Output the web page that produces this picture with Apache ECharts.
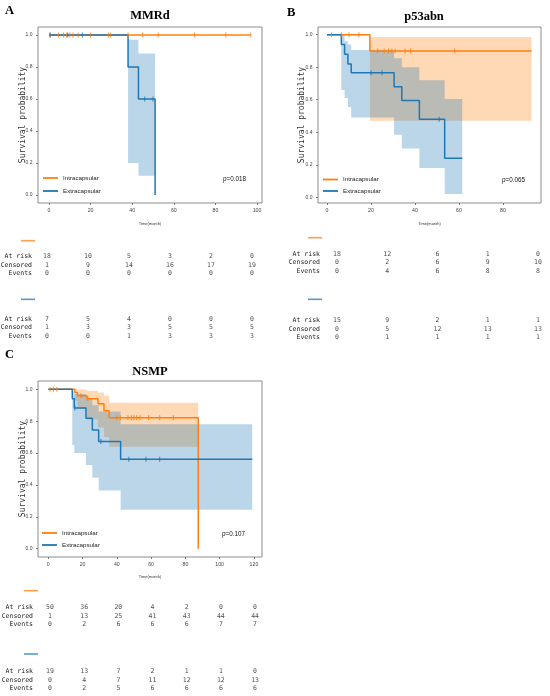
<!DOCTYPE html>
<html>
<head>
<meta charset="utf-8">
<script src="https://cdn.jsdelivr.net/npm/echarts@6/dist/echarts.min.js"></script>
<style>
  html, body { margin: 0; padding: 0; background: #fff; }
  #chart { width: 550px; height: 696px; }
</style>
</head>
<body>
<div id="chart"></div>
<script>
// ---- A: MMRd ----
var mmrdTicks = [0, 20, 40, 60, 80, 100];
var mmrdInTime = [0, 97];
var mmrdInSurv = [1, 1];
var mmrdInCens = [0.5, 4.5, 7, 8.5, 10, 11.5, 14, 20, 28.5, 29.5, 38, 45, 52.5, 70, 85, 97];
var mmrdExTime = [0, 38, 43, 51];
var mmrdExSurv = [1, 0.8, 0.6, 0];
var mmrdExLow = [1, 0.2, 0.12, 0.12];
var mmrdExUp = [1, 0.97, 0.885, 0.885];
var mmrdExCens = [0.5, 9, 16, 46, 50];
var mmrdInRisk = [18, 10, 5, 3, 2, 0];
var mmrdInCensored = [1, 9, 14, 16, 17, 19];
var mmrdInEvents = [0, 0, 0, 0, 0, 0];
var mmrdExRisk = [7, 5, 4, 0, 0, 0];
var mmrdExCensored = [1, 3, 3, 5, 5, 5];
var mmrdExEvents = [0, 0, 1, 3, 3, 3];

// ---- B: p53abn ----
var p53Ticks = [0, 20, 40, 60, 80];
var p53InTime = [0, 19.5, 93];
var p53InSurv = [1, 0.9, 0.9];
var p53InLow = [1, 0.47, 0.47];
var p53InUp = [1, 0.985, 0.985];
var p53InCens = [2, 6.5, 10, 14.5, 23, 26, 28, 29.5, 31, 35.5, 38, 58];
var p53ExTime = [0, 6.5, 8, 9.5, 11, 30.5, 34, 42, 53.5, 61.5];
var p53ExSurv = [1, 0.94, 0.88, 0.82, 0.765, 0.68, 0.595, 0.48, 0.24, 0.24];
var p53ExLow = [1, 0.66, 0.61, 0.555, 0.49, 0.385, 0.3, 0.18, 0.02, 0.02];
var p53ExUp = [1, 1, 0.96, 0.94, 0.905, 0.855, 0.8, 0.72, 0.605, 0.605];
var p53ExCens = [20, 25, 51];
var p53InRisk = [18, 12, 6, 1, 0];
var p53InCensored = [0, 2, 6, 9, 10];
var p53InEvents = [0, 4, 6, 8, 8];
var p53ExRisk = [15, 9, 2, 1, 1];
var p53ExCensored = [0, 5, 12, 13, 13];
var p53ExEvents = [0, 1, 1, 1, 1];

// ---- C: NSMP ----
var nsmpTicks = [0, 20, 40, 60, 80, 100, 120];
var nsmpInTime = [0, 15.5, 17, 22.5, 29, 32.5, 35.5, 87.5];
var nsmpInSurv = [1, 0.98, 0.96, 0.94, 0.91, 0.865, 0.822, 0];
var nsmpInLow = [1, 0.93, 0.88, 0.81, 0.76, 0.7, 0.64, 0.64];
var nsmpInUp = [1, 1, 0.998, 0.99, 0.98, 0.96, 0.916, 0.916];
var nsmpInCens = [1, 3, 5, 19, 23, 40, 42, 46.5, 48.5, 50, 51.5, 53.5, 58.5, 65, 73];
var nsmpExTime = [0, 14, 15.2, 22, 25.7, 29.4, 42.2, 119];
var nsmpExSurv = [1, 0.94, 0.883, 0.818, 0.745, 0.672, 0.561, 0.561];
var nsmpExLow = [1, 0.65, 0.6, 0.525, 0.445, 0.365, 0.245, 0.245];
var nsmpExUp = [1, 0.99, 0.97, 0.94, 0.9, 0.86, 0.78, 0.78];
var nsmpExCens = [15.5, 30.7, 47, 57, 65];
var nsmpInRisk = [50, 36, 20, 4, 2, 0, 0];
var nsmpInCensored = [1, 13, 25, 41, 43, 44, 44];
var nsmpInEvents = [0, 2, 6, 6, 6, 7, 7];
var nsmpExRisk = [19, 13, 7, 2, 1, 1, 0];
var nsmpExCensored = [0, 4, 7, 11, 12, 12, 13];
var nsmpExEvents = [0, 2, 5, 6, 6, 6, 6];

var rowNames = ['At risk', 'Censored', 'Events'];
var yTicks = [0, 0.2, 0.4, 0.6, 0.8, 1.0];

var ORANGE = '#ff7f0e', BLUE = '#1f77b4';
var ORANGE_BAND = 'rgba(255,127,14,0.3)', BLUE_BAND = 'rgba(31,119,180,0.3)';
var MONO = 'DejaVu Sans Mono';
var SANS = 'Liberation Sans';

var panels = [
  {
    title: 'MMRd', letter: 'A', p: '0.018', titleX: 150, titleY: 15.5, letterX: 5, letterY: 11,
    grid: { left: 38, top: 27, width: 224, height: 176 }, xr: [-5.3, 102.4], yr: [-0.05, 1.05],
    ticks: mmrdTicks, yNameGap: 11.5, xNameGap: 19, legend: { left: 43, top: 174, gap: 5 }, pPos: [223, 179],
    groups: [
      { name: 'Intracapsular', color: ORANGE, band: ORANGE_BAND, time: mmrdInTime, surv: mmrdInSurv, cens: mmrdInCens,
        risk: mmrdInRisk, censored: mmrdInCensored, events: mmrdInEvents },
      { name: 'Extracapsular', color: BLUE, band: BLUE_BAND, time: mmrdExTime, surv: mmrdExSurv, low: mmrdExLow, up: mmrdExUp, cens: mmrdExCens,
        risk: mmrdExRisk, censored: mmrdExCensored, events: mmrdExEvents }
    ],
    table: { left: 40, width: 215, xr: [-3.4, 101.5], tops: [252.5, 315.2], margin: 8, dashX: 21, dashY: [240.7, 299.3] }
  },
  {
    title: 'p53abn', letter: 'B', p: '0.065', titleX: 424, titleY: 16.5, letterX: 287, letterY: 13,
    grid: { left: 318, top: 27, width: 223, height: 176 }, xr: [-4.1, 97.3], yr: [-0.035, 1.047],
    ticks: p53Ticks, yNameGap: 12.5, xNameGap: 19, legend: { left: 323, top: 175.5, gap: 3.5 }, pPos: [502, 180],
    groups: [
      { name: 'Intracapsular', color: ORANGE, band: ORANGE_BAND, time: p53InTime, surv: p53InSurv, low: p53InLow, up: p53InUp, cens: p53InCens,
        risk: p53InRisk, censored: p53InCensored, events: p53InEvents },
      { name: 'Extracapsular', color: BLUE, band: BLUE_BAND, time: p53ExTime, surv: p53ExSurv, low: p53ExLow, up: p53ExUp, cens: p53ExCens,
        risk: p53ExRisk, censored: p53ExCensored, events: p53ExEvents }
    ],
    table: { left: 325, width: 220, xr: [-4.78, 82.78], tops: [250.2, 316.5], margin: 5, dashX: 308, dashY: [237.7, 299.3] }
  },
  {
    title: 'NSMP', letter: 'C', p: '0.107', titleX: 150, titleY: 371.5, letterX: 5, letterY: 355,
    grid: { left: 38, top: 381, width: 224, height: 176 }, xr: [-6.0, 124.7], yr: [-0.052, 1.052],
    ticks: nsmpTicks, yNameGap: 11.5, xNameGap: 18, legend: { left: 42, top: 529, gap: 4 }, pPos: [222, 534.3],
    groups: [
      { name: 'Intracapsular', color: ORANGE, band: ORANGE_BAND, time: nsmpInTime, surv: nsmpInSurv, low: nsmpInLow, up: nsmpInUp, cens: nsmpInCens,
        risk: nsmpInRisk, censored: nsmpInCensored, events: nsmpInEvents },
      { name: 'Extracapsular', color: BLUE, band: BLUE_BAND, time: nsmpExTime, surv: nsmpExSurv, low: nsmpExLow, up: nsmpExUp, cens: nsmpExCens,
        risk: nsmpExRisk, censored: nsmpExCensored, events: nsmpExEvents }
    ],
    table: { left: 40, width: 220, xr: [-5.85, 122.9], tops: [603.5, 667.5], margin: 7, dashX: 24, dashY: [590.7, 654] }
  }
];

// survival value of a step curve at time t
function survAt(time, surv, t) {
  var v = surv[0];
  for (var i = 0; i < time.length; i++) {
    if (time[i] <= t) v = surv[i];
  }
  return v;
}

// confidence band drawn as one stepped polygon
function bandRenderer(fill) {
  return function (params, api) {
    if (params.dataIndexInside !== 0) return null;
    var n = params.dataInsideLength;
    var top = [], bot = [];
    for (var i = 0; i < n - 1; i++) {
      var t0 = api.value(0, i), t1 = api.value(0, i + 1);
      top.push(api.coord([t0, api.value(2, i)]), api.coord([t1, api.value(2, i)]));
      bot.push(api.coord([t0, api.value(1, i)]), api.coord([t1, api.value(1, i)]));
    }
    return {
      type: 'polygon',
      shape: { points: top.concat(bot.reverse()) },
      style: { fill: fill },
      silent: true
    };
  };
}

var grids = [], xAxes = [], yAxes = [], series = [], legends = [], graphics = [];

panels.forEach(function (pn, pi) {
  grids[pi] = Object.assign({ show: true, borderColor: '#8c8c8c', borderWidth: 1, backgroundColor: '#fff',
    containLabel: false, outerBoundsMode: 'none' }, pn.grid);
  xAxes[pi] = {
    type: 'value', gridIndex: pi, min: pn.xr[0], max: pn.xr[1],
    name: 'Time(month)', nameLocation: 'middle', nameGap: pn.xNameGap, nameMoveOverlap: false,
    nameTextStyle: { fontFamily: SANS, fontSize: 4, color: '#333' },
    axisLine: { show: false, onZero: false },
    axisTick: { show: true, length: 2, lineStyle: { color: '#777' }, customValues: pn.ticks },
    axisLabel: { customValues: pn.ticks, margin: 5.5, fontFamily: SANS, fontSize: 5.2, color: '#444' },
    splitLine: { show: false }
  };
  yAxes[pi] = {
    type: 'value', gridIndex: pi, min: pn.yr[0], max: pn.yr[1],
    name: 'Survival probability', nameLocation: 'middle', nameGap: pn.yNameGap, nameRotate: 90, nameMoveOverlap: false,
    nameTextStyle: { fontFamily: MONO, fontSize: 8, color: '#333' },
    axisLine: { show: false, onZero: false },
    axisTick: { show: true, length: 2, lineStyle: { color: '#777' }, customValues: yTicks },
    axisLabel: { customValues: yTicks, margin: 5.5, fontFamily: SANS, fontSize: 5, color: '#444',
      formatter: function (v) { return v.toFixed(1); } },
    splitLine: { show: false }
  };

  pn.groups.forEach(function (g, gi) {
    if (g.low) {
      series.push({
        type: 'custom', name: g.name + ' CI', xAxisIndex: pi, yAxisIndex: pi, z: 1, silent: true,
        encode: { x: 0, y: [1, 2] },
        data: g.time.map(function (t, i) { return [t, g.low[i], g.up[i]]; }),
        renderItem: bandRenderer(g.band)
      });
    }
    series.push({
      type: 'line', name: g.name, xAxisIndex: pi, yAxisIndex: pi, z: 3, step: 'end',
      showSymbol: false, symbol: 'none',
      itemStyle: { color: g.color }, lineStyle: { color: g.color, width: 1.5 },
      data: g.time.map(function (t, i) { return [t, g.surv[i]]; })
    });
    series.push({
      type: 'scatter', name: g.name + ' censored', xAxisIndex: pi, yAxisIndex: pi, z: 4, silent: true,
      symbol: 'rect', symbolSize: [1.1, 5], itemStyle: { color: g.color },
      data: g.cens.map(function (t) { return [t, survAt(g.time, g.surv, t)]; })
    });

    // risk table for this group
    var ti = 3 + pi * 2 + gi;
    grids[ti] = { show: false, left: pn.table.left, top: pn.table.tops[gi], width: pn.table.width, height: 25,
      containLabel: false, outerBoundsMode: 'none' };
    xAxes[ti] = { type: 'value', gridIndex: ti, min: pn.table.xr[0], max: pn.table.xr[1], show: false };
    yAxes[ti] = {
      type: 'category', gridIndex: ti, data: rowNames, inverse: true,
      axisLine: { show: false }, axisTick: { show: false }, splitLine: { show: false },
      axisLabel: { interval: 0, hideOverlap: false, margin: pn.table.margin, fontFamily: MONO, fontSize: 6.5, color: '#222' }
    };
    var rows = [g.risk, g.censored, g.events];
    var cells = [];
    rows.forEach(function (vals, r) {
      vals.forEach(function (v, j) { cells.push([pn.ticks[j], r, v]); });
    });
    series.push({
      type: 'scatter', name: g.name + ' table', xAxisIndex: ti, yAxisIndex: ti, silent: true,
      symbolSize: 1, itemStyle: { color: 'rgba(0,0,0,0)' },
      label: { show: true, position: 'inside', fontFamily: MONO, fontSize: 6.5, color: '#222',
        formatter: function (p) { return String(p.value[2]); } },
      data: cells
    });
    graphics.push({
      type: 'rect', silent: true,
      shape: { x: pn.table.dashX, y: pn.table.dashY[gi] - 0.8, width: 14, height: 1.6 },
      style: { fill: g.color, opacity: 0.75 }
    });
  });

  legends.push({
    data: ['Intracapsular', 'Extracapsular'], orient: 'vertical', left: pn.legend.left, top: pn.legend.top,
    icon: 'rect', itemWidth: 15, itemHeight: 1.8, itemGap: pn.legend.gap, padding: 0, selectedMode: false,
    textStyle: { fontFamily: SANS, fontSize: 6.2, lineHeight: 8, color: '#222' }
  });

  graphics.push({
    type: 'text', silent: true, x: pn.titleX, y: pn.titleY,
    style: { text: pn.title, fontFamily: 'Liberation Serif', fontWeight: 'bold', fontSize: 12.5, fill: '#000',
      align: 'center', verticalAlign: 'middle' }
  });
  graphics.push({
    type: 'text', silent: true, x: pn.letterX, y: pn.letterY,
    style: { text: pn.letter, fontFamily: 'Liberation Serif', fontWeight: 'bold', fontSize: 12.5, fill: '#000',
      align: 'left', verticalAlign: 'middle' }
  });
  graphics.push({
    type: 'text', silent: true, x: pn.pPos[0], y: pn.pPos[1],
    style: { text: '{i|p}=' + pn.p, fontFamily: SANS, fontSize: 6.3, fill: '#111',
      align: 'left', verticalAlign: 'middle',
      rich: { i: { fontStyle: 'italic', fontFamily: SANS, fontSize: 6.3, fill: '#111' } } }
  });
});

var chart = echarts.init(document.getElementById('chart'));
chart.setOption({
  animation: false,
  backgroundColor: '#fff',
  grid: grids,
  xAxis: xAxes,
  yAxis: yAxes,
  legend: legends,
  series: series,
  graphic: graphics
});
</script>
</body>
</html>
